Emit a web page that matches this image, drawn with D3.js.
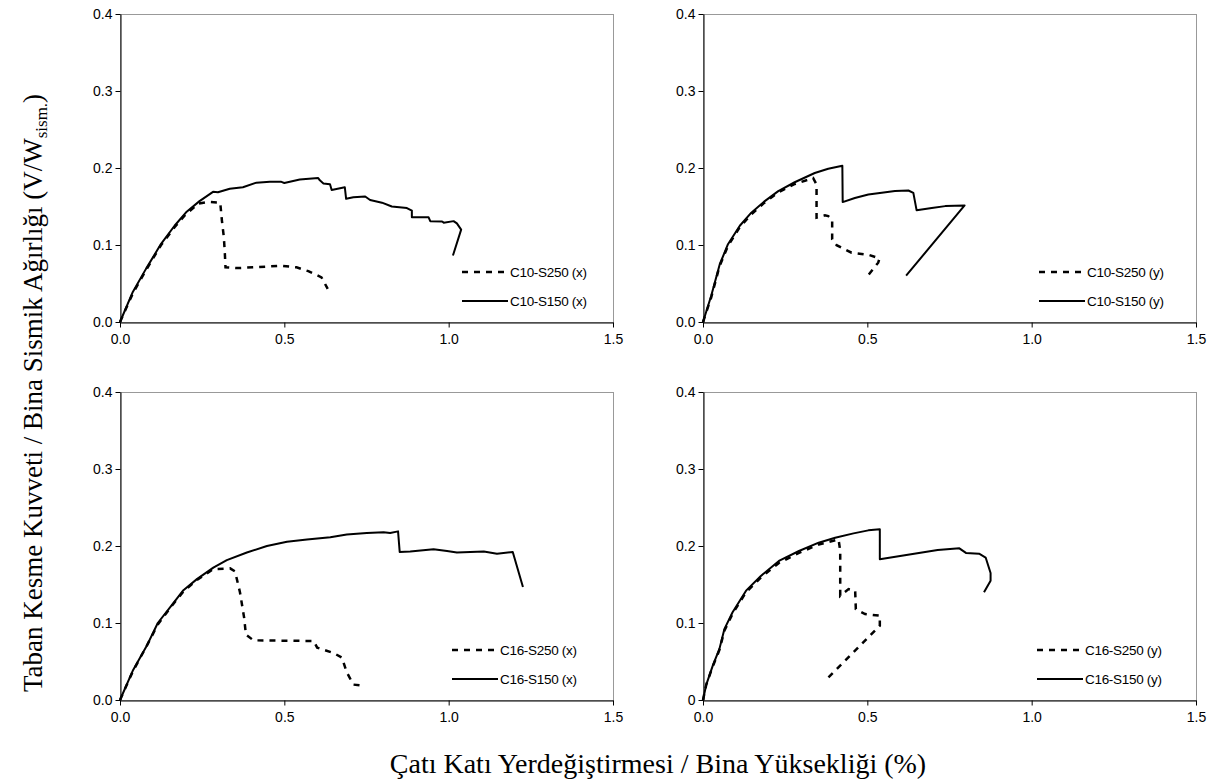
<!DOCTYPE html>
<meta charset="utf-8">
<style>
body { margin: 0; background: #fff; }
svg { display: block; }
.tick text { font-family: "Liberation Sans", Arial, sans-serif; font-size: 14px; fill: #000; }
.axis path, .axis line { stroke: #000; }
.frame { fill: none; stroke: #999; stroke-width: 1px; }
.solid { fill: none; stroke: #000; stroke-width: 2px; stroke-linejoin: round; }
.dash { fill: none; stroke: #000; stroke-width: 2.5px; stroke-dasharray: 6,6; }
.legend text { font-family: "Liberation Sans", Arial, sans-serif; font-size: 13.5px; letter-spacing: -0.3px; }
.title { font-family: "Liberation Serif", "Times New Roman", serif; font-size: 27px; }
</style>
<body><svg width="1227" height="784"></svg></body>
<script src="https://d3js.org/d3.v7.min.js"></script>
<script>

// [drift %, V/W]
var c10s250x = [[0,0],[0.04,0.038],[0.08,0.068],[0.125,0.1],[0.166,0.123],[0.2,0.14],[0.24,0.154],[0.27,0.156],[0.305,0.155],
  [0.31,0.132],[0.316,0.11],[0.319,0.089],[0.321,0.071],[0.354,0.07],[0.405,0.071],[0.446,0.072],[0.491,0.073],[0.537,0.071],
  [0.573,0.066],[0.613,0.058],[0.632,0.043]];
var c10s150x = [[0,0],[0.039,0.039],[0.079,0.069],[0.125,0.1015],[0.166,0.125],[0.201,0.1425],[0.242,0.157],[0.283,0.169],
  [0.298,0.1685],[0.334,0.173],[0.374,0.175],[0.415,0.181],[0.456,0.182],[0.491,0.182],[0.5,0.1806],[0.547,0.185],[0.603,0.187],
  [0.608,0.184],[0.619,0.18],[0.639,0.179],[0.644,0.1715],[0.684,0.175],[0.688,0.16],[0.71,0.162],[0.746,0.163],[0.761,0.1585],
  [0.797,0.155],[0.827,0.15],[0.873,0.148],[0.888,0.1447],[0.888,0.136],[0.939,0.136],[0.944,0.131],[0.98,0.1305],[0.985,0.129],
  [1.015,0.131],[1.025,0.128],[1.038,0.12],[1.013,0.0864]];

var c10s250y = [[0,0],[0.025,0.032],[0.05,0.072],[0.075,0.098],[0.11,0.122],[0.145,0.139],[0.187,0.155],[0.228,0.168],
  [0.278,0.179],[0.335,0.187],[0.3455,0.1785],[0.3455,0.1355],[0.371,0.1385],[0.381,0.1376],[0.393,0.133],[0.393,0.1075],
  [0.4065,0.0998],[0.452,0.09],[0.503,0.0873],[0.537,0.0826],[0.533,0.077],[0.503,0.061]];
var c10s150y = [[0,0],[0.025,0.034],[0.051,0.075],[0.076,0.101],[0.112,0.125],[0.147,0.142],[0.188,0.157],[0.229,0.17],
  [0.279,0.1815],[0.34,0.1935],[0.381,0.199],[0.424,0.203],[0.425,0.1557],[0.462,0.161],[0.503,0.1656],[0.544,0.168],
  [0.584,0.17],[0.625,0.1708],[0.64,0.1677],[0.65,0.145],[0.696,0.148],[0.737,0.1505],[0.796,0.1514],[0.618,0.0602]];

var c16s250x = [[0,0],[0.04,0.038],[0.081,0.07],[0.115,0.098],[0.157,0.122],[0.193,0.141],[0.234,0.156],[0.284,0.17],
  [0.335,0.171],[0.35,0.167],[0.365,0.14],[0.378,0.106],[0.383,0.085],[0.406,0.0775],[0.5,0.077],[0.589,0.0766],
  [0.6,0.068],[0.65,0.061],[0.675,0.055],[0.69,0.036],[0.71,0.02],[0.73,0.019]];
var c16s150x = [[0,0],[0.04,0.039],[0.081,0.07],[0.115,0.1],[0.157,0.123],[0.193,0.1426],[0.234,0.157],[0.284,0.172],
  [0.325,0.1817],[0.386,0.1915],[0.447,0.2],[0.508,0.2055],[0.569,0.2085],[0.64,0.2115],[0.69,0.215],[0.751,0.217],
  [0.802,0.218],[0.822,0.217],[0.846,0.219],[0.851,0.1923],[0.883,0.1928],[0.954,0.1957],[0.995,0.1936],[1.025,0.1915],
  [1.107,0.1928],[1.147,0.19],[1.195,0.1923],[1.226,0.1468]];

var c16s250y = [[0,0],[0.01,0.02],[0.03,0.044],[0.05,0.065],[0.065,0.09],[0.09,0.112],[0.131,0.14],[0.176,0.159],
  [0.231,0.178],[0.292,0.191],[0.352,0.202],[0.4125,0.2086],[0.4175,0.1935],[0.4175,0.1353],[0.443,0.144],[0.463,0.1418],
  [0.465,0.118],[0.493,0.1116],[0.538,0.1095],[0.538,0.0966],[0.473,0.0686],[0.374,0.026]];
var c16s150y = [[0,0],[0.01,0.02],[0.03,0.045],[0.05,0.0664],[0.065,0.092],[0.09,0.114],[0.131,0.142],[0.176,0.161],
  [0.231,0.1806],[0.292,0.1935],[0.352,0.2043],[0.402,0.2108],[0.458,0.2164],[0.503,0.2203],[0.538,0.2216],[0.538,0.1828],
  [0.614,0.188],[0.714,0.1948],[0.78,0.197],[0.8,0.191],[0.84,0.19],[0.86,0.185],[0.875,0.165],[0.875,0.155],[0.855,0.14]];

var xTicks = [0, 0.5, 1.0, 1.5];
var yTicks = [0, 0.1, 0.2, 0.3, 0.4];

var panels = [
  {x0: 120, y0: 14,  dashed: c10s250x, solid: c10s150x, names: ["C10-S250 (x)", "C10-S150 (x)"], legX: 342, zero: "0.0"},
  {x0: 703, y0: 14,  dashed: c10s250y, solid: c10s150y, names: ["C10-S250 (y)", "C10-S150 (y)"], legX: 336, zero: "0.0"},
  {x0: 120, y0: 392, dashed: c16s250x, solid: c16s150x, names: ["C16-S250 (x)", "C16-S150 (x)"], legX: 332, zero: "0.0"},
  {x0: 703, y0: 392, dashed: c16s250y, solid: c16s150y, names: ["C16-S250 (y)", "C16-S150 (y)"], legX: 334, zero: "0"}
];

var svg = d3.select("svg"),
    pw = 493, ph = 308;

panels.forEach(function(p) {
  var x = d3.scaleLinear().domain([0, 1.5]).range([p.x0, p.x0 + pw]),
      y = d3.scaleLinear().domain([0, 0.4]).range([p.y0 + ph, p.y0]);

  svg.append("rect")
      .attr("class", "frame")
      .attr("x", p.x0 + 0.5)
      .attr("y", p.y0 + 0.5)
      .attr("width", pw)
      .attr("height", ph);

  svg.append("g")
      .attr("class", "axis")
      .attr("transform", "translate(0," + (p.y0 + ph + 0.5) + ")")
      .call(d3.axisBottom(x).tickValues(xTicks).tickSize(5).tickSizeOuter(0).tickPadding(7).tickFormat(d3.format(".1f")));

  svg.append("g")
      .attr("class", "axis")
      .attr("transform", "translate(" + (p.x0 + 0.5) + ",0)")
      .call(d3.axisLeft(y).tickValues(yTicks).tickSize(5).tickSizeOuter(0).tickPadding(3)
        .tickFormat(function(d) { return d === 0 ? p.zero : d3.format(".1f")(d); }));

  var line = d3.line()
      .x(function(d) { return x(d[0]); })
      .y(function(d) { return y(d[1]); });

  svg.append("path").datum(p.solid).attr("class", "solid").attr("d", line);
  svg.append("path").datum(p.dashed).attr("class", "dash").attr("d", line);

  var leg = svg.append("g").attr("class", "legend");
  [0, 1].forEach(function(i) {
    var ly = p.y0 + ph - 50 + i * 29;
    leg.append("line")
        .attr("class", i === 0 ? "dash" : "solid")
        .attr("x1", p.x0 + p.legX).attr("x2", p.x0 + p.legX + 46)
        .attr("y1", ly).attr("y2", ly);
    leg.append("text")
        .attr("x", p.x0 + p.legX + 48)
        .attr("y", ly + 5)
        .text(p.names[i]);
  });
});

svg.append("text")
    .attr("class", "title")
    .attr("x", 658)
    .attr("y", 773)
    .attr("text-anchor", "middle")
    .style("font-size", "28px")
    .text("Çatı Katı Yerdeğiştirmesi / Bina Yüksekliği (%)");

var yt = svg.append("text")
    .attr("class", "title")
    .attr("transform", "translate(42,393) rotate(-90)")
    .attr("text-anchor", "middle");
yt.append("tspan").text("Taban Kesme Kuvveti / Bina Sismik  Ağırlığı (V/W");
yt.append("tspan").attr("font-size", "17px").attr("dy", 5).text("sism.");
yt.append("tspan").attr("dy", -5).text(")");

</script>
